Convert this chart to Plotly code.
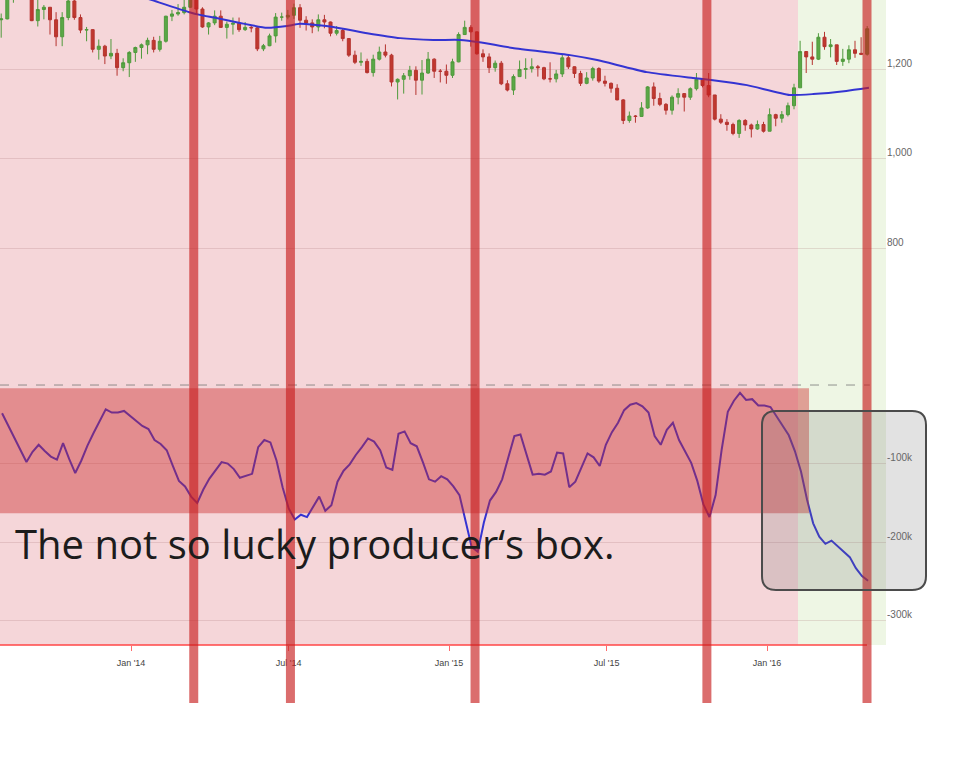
import plotly.graph_objects as go
import pandas as pd

# ---------------- data ----------------
candle_start = "2013-07-29"   # weekly candles (week start)
opens = [1323,1310,1312,1371,1395,1396,1387,1308,1333,1338,1310,1272,1315,1352,1315,1287,1288,1244,1251,1229,
         1235,1203,1214,1237,1248,1254,1264,1244,1262,1318,1323,1326,1338,1379,1334,1294,1303,1318,1293,1300,
         1302,1288,1293,1292,1245,1252,1274,1316,1316,1320,1337,1309,1303,1294,1310,1305,1280,1286,1268,1231,
         1215,1217,1192,1222,1238,1231,1171,1177,1185,1197,1175,1191,1222,1195,1195,1186,1216,1277,1293,1283,
         1234,1227,1203,1213,1167,1153,1183,1199,1201,1205,1203,1178,1178,1189,1225,1205,1190,1168,1180,1201,
         1173,1168,1157,1131,1085,1095,1094,1113,1160,1134,1121,1108,1137,1145,1137,1156,1177,1163,1142,1088,
         1081,1076,1056,1085,1075,1066,1076,1061,1098,1090,1098,1118,1158,1239,1227,1222,1271,1250,1254,1217,
         1222,1243,1235,1233]
highs = [1329,1324,1378,1401,1434,1419,1388,1372,1343,1338,1327,1327,1361,1362,1322,1294,1289,1266,1254,1267,
         1245,1224,1240,1250,1257,1270,1272,1274,1319,1332,1345,1355,1382,1392,1338,1305,1331,1331,1306,1315,
         1315,1305,1296,1294,1256,1279,1325,1326,1332,1346,1345,1318,1311,1322,1321,1306,1296,1290,1269,1241,
         1237,1223,1232,1250,1255,1234,1179,1191,1207,1206,1220,1238,1224,1200,1210,1223,1282,1308,1298,1284,
         1244,1235,1219,1218,1175,1188,1219,1224,1224,1209,1205,1215,1198,1232,1232,1206,1196,1193,1205,1204,
         1185,1170,1166,1133,1105,1097,1126,1162,1170,1147,1124,1141,1157,1146,1159,1191,1178,1191,1142,1099,
         1088,1080,1088,1088,1078,1085,1082,1112,1100,1106,1125,1167,1263,1240,1261,1280,1283,1267,1254,1245,
         1253,1263,1271,1296]
lows = [1271,1270,1311,1348,1380,1365,1307,1295,1311,1277,1251,1251,1309,1310,1280,1262,1237,1221,1211,1222,
        1185,1195,1182,1216,1223,1233,1237,1239,1259,1307,1319,1322,1337,1321,1292,1277,1298,1292,1268,1277,
        1283,1285,1282,1240,1240,1251,1259,1308,1311,1312,1292,1286,1280,1284,1291,1273,1275,1262,1227,1211,
        1207,1190,1183,1219,1226,1161,1132,1145,1176,1142,1143,1189,1180,1170,1167,1180,1215,1276,1250,1232,
        1216,1191,1194,1164,1150,1142,1183,1178,1192,1183,1175,1170,1170,1182,1200,1180,1162,1166,1174,1169,
        1161,1147,1130,1077,1080,1080,1094,1111,1118,1117,1098,1098,1121,1105,1131,1152,1159,1137,1085,1077,
        1062,1052,1046,1062,1047,1064,1058,1061,1072,1080,1094,1110,1158,1191,1209,1220,1243,1226,1209,1207,
        1213,1225,1231,1230]
closes = [1310,1312,1371,1395,1396,1387,1308,1333,1338,1310,1272,1315,1352,1315,1287,1288,1244,1251,1229,1235,
          1203,1214,1237,1248,1254,1264,1244,1262,1318,1323,1326,1338,1379,1334,1294,1303,1318,1293,1300,1302,
          1288,1293,1292,1245,1252,1274,1316,1316,1320,1337,1309,1303,1294,1310,1305,1280,1286,1268,1231,1215,
          1217,1192,1222,1238,1231,1171,1177,1185,1197,1175,1191,1222,1195,1195,1186,1216,1277,1293,1283,1234,
          1227,1203,1213,1167,1153,1183,1199,1201,1205,1203,1178,1178,1189,1225,1205,1190,1168,1180,1201,1173,
          1168,1157,1131,1085,1095,1094,1113,1160,1134,1121,1108,1137,1145,1137,1156,1177,1163,1142,1088,1081,
          1076,1056,1085,1075,1066,1076,1061,1098,1090,1098,1118,1158,1239,1227,1222,1271,1250,1254,1217,1222,
          1243,1235,1233,1290]

ma_dates = ["2013-11-26","2014-01-25","2014-03-09","2014-03-21","2014-04-09","2014-05-06","2014-06-06",
            "2014-06-29","2014-07-14","2014-08-21","2014-09-29","2014-11-06","2014-12-14","2015-01-14",
            "2015-02-05","2015-03-15","2015-05-20","2015-06-20","2015-08-16","2015-10-08","2015-10-31",
            "2015-12-09","2016-01-27","2016-02-23","2016-04-01","2016-04-27"]
ma_values = [1392,1354,1327,1321,1314,1303,1292,1296,1301,1294,1280,1269,1265,1265,1260,1247,1231,1220,
             1193,1180,1175,1164,1142,1144,1151,1158]

cot_start = "2013-08-06"      # weekly COT reports
cot_net_k = [-36,-51,-67,-82,-98,-85,-76,-84,-91,-95,-74,-94,-112,-96,-77,-61,-45,-31,-35,-35,
             -33,-39,-45,-52,-56,-70,-75,-83,-103,-122,-129,-142,-150,-133,-119,-108,-98,-100,-107,-118,
             -115,-113,-79,-70,-73,-96,-130,-157,-171,-165,-168,-155,-142,-160,-153,-123,-109,-101,-89,-79,
             -68,-72,-83,-105,-108,-62,-59,-74,-78,-98,-120,-123,-116,-120,-129,-140,-172,-206,-212,-175,
             -147,-136,-120,-92,-65,-63,-90,-114,-113,-114,-110,-86,-87,-130,-123,-105,-87,-92,-103,-76,
             -60,-48,-32,-25,-23,-27,-35,-65,-76,-57,-48,-70,-84,-99,-122,-152,-168,-140,-82,-34,
             -20,-10,-19,-18,-26,-26,-28,-40,-52,-64,-84,-110,-146,-176,-193,-202,-198,-205,-212,-219,
             -233,-243,-249]

signal_dates = ["2014-03-14", "2014-07-03", "2015-01-30 21:00", "2015-10-24", "2016-04-24 19:00"]
tick_dates = ["2014-01-01", "2014-07-01", "2015-01-01", "2015-07-01", "2016-01-01"]
tick_text = ["Jan '14", "Jul '14", "Jan '15", "Jul '15", "Jan '16"]
price_ticks = [800, 1000, 1200]
cot_ticks = [-100, -200, -300]
cot_tick_text = ["-100k", "-200k", "-300k"]
x_view = ["2013-08-03 15:00", "2016-05-16 14:00"]
bull_start = "2016-02-05 14:00"
box_band_end = "2016-02-18 05:00"
band_range_k = [-4, -163]
line_end = "2016-04-28"
note_text = "The not so lucky producer‘s box."

# ---------------- layout geometry ----------------
W, H = 958, 770
ML, MR, MT, MB = 0, 72, 0, 125
PW, PH = W - ML - MR, H - MT - MB


def px(x):
    return (x - ML) / PW


def py(y):
    return (PH + MT - y) / PH


candle_dates = pd.date_range(candle_start, periods=len(closes), freq="7D")
cot_dates = pd.date_range(cot_start, periods=len(cot_net_k), freq="7D")

BLUE = "#3434d2"

fig = go.Figure()
fig.add_trace(go.Candlestick(
    x=candle_dates, open=opens, high=highs, low=lows, close=closes,
    increasing=dict(line=dict(color="#4f9a3c", width=1), fillcolor="#5ba847"),
    decreasing=dict(line=dict(color="#b5332f", width=1), fillcolor="#c0392f"),
    whiskerwidth=0, xaxis="x", yaxis="y", showlegend=False, hoverinfo="skip"))
fig.add_trace(go.Scatter(
    x=ma_dates, y=ma_values, mode="lines", xaxis="x", yaxis="y",
    line=dict(color=BLUE, width=2, shape="spline", smoothing=0.5), showlegend=False, hoverinfo="skip"))
fig.add_trace(go.Scatter(
    x=cot_dates, y=cot_net_k, mode="lines", xaxis="x", yaxis="y2",
    line=dict(color=BLUE, width=2), showlegend=False, hoverinfo="skip"))

shapes = []
# background zones
shapes.append(dict(type="rect", xref="x", yref="paper", x0=x_view[0], x1=bull_start, y0=0, y1=1,
                   fillcolor="rgb(245,214,217)", line=dict(width=0), layer="below"))
shapes.append(dict(type="rect", xref="x", yref="paper", x0=bull_start, x1=x_view[1], y0=0, y1=1,
                   fillcolor="rgb(238,246,228)", line=dict(width=0), layer="below"))
# dark band in the lower panel
shapes.append(dict(type="rect", xref="x", yref="y2", x0=x_view[0], x1=box_band_end,
                   y0=band_range_k[0], y1=band_range_k[1],
                   fillcolor="rgba(202,40,40,0.42)", line=dict(width=0), layer="above"))
# zero line (dashed)
shapes.append(dict(type="line", xref="x", yref="y2", x0=x_view[0], x1=line_end, y0=0, y1=0,
                   line=dict(color="rgba(120,120,120,0.8)", width=1, dash="dash"), layer="above"))
# bottom axis line
shapes.append(dict(type="line", xref="paper", yref="paper", x0=0, x1=px(867), y0=0, y1=0,
                   line=dict(color="rgba(255,70,70,0.75)", width=2), layer="above"))
# vertical signal lines
for d in signal_dates:
    shapes.append(dict(type="line", xref="x", yref="paper", x0=d, x1=d, y0=py(703), y1=1,
                       line=dict(color="rgba(200,30,30,0.65)", width=9), layer="above"))
# rounded box
bx0, bx1, by0, by1, r = 762, 926, 411, 590, 14
pts = [
    ("M", (bx0 + r, by0)), ("L", (bx1 - r, by0)), ("Q", (bx1, by0), (bx1, by0 + r)),
    ("L", (bx1, by1 - r)), ("Q", (bx1, by1), (bx1 - r, by1)), ("L", (bx0 + r, by1)),
    ("Q", (bx0, by1), (bx0, by1 - r)), ("L", (bx0, by0 + r)), ("Q", (bx0, by0), (bx0 + r, by0)),
]
path = ""
for seg in pts:
    cmd = seg[0]
    coords = " ".join(f"{px(p[0]):.5f},{py(p[1]):.5f}" for p in seg[1:])
    path += f"{cmd} {coords} "
path += "Z"
shapes.append(dict(type="path", xref="paper", yref="paper", path=path,
                   fillcolor="rgba(110,110,110,0.2)", line=dict(color="rgb(75,75,75)", width=2),
                   layer="above"))

axis_font = dict(family="Liberation Sans, Arial, sans-serif", size=10, color="#666666")

fig.update_layout(
    width=W, height=H,
    margin=dict(l=ML, r=MR, t=MT, b=MB, pad=0),
    paper_bgcolor="white", plot_bgcolor="rgba(0,0,0,0)",
    showlegend=False,
    shapes=shapes,
    xaxis=dict(type="date", range=x_view, anchor="y2", rangeslider=dict(visible=False),
               tickvals=tick_dates, ticktext=tick_text, ticks="outside", ticklen=5, tickwidth=1,
               tickcolor="rgba(255,70,70,0.8)", showgrid=False, showline=False, zeroline=False,
               tickfont=dict(family="Liberation Sans Narrow, Liberation Sans, sans-serif", size=9,
                             color="#444444"),
               ticklabelstandoff=4, fixedrange=True),
    yaxis=dict(domain=[py(330), 1], range=[616.8, 1354.2], side="right", anchor="x",
               tickvals=price_ticks, tickformat=",", showgrid=True,
               gridcolor="rgba(150,90,90,0.18)", gridwidth=1, zeroline=False, ticks="",
               tickfont=axis_font, ticklabelshift=-6, fixedrange=True),
    yaxis2=dict(domain=[0, py(380)], range=[-330.8, 6.4], side="right", anchor="x",
                tickvals=cot_ticks, ticktext=cot_tick_text, showgrid=True,
                gridcolor="rgba(150,90,90,0.18)", gridwidth=1, zeroline=False, ticks="",
                tickfont=axis_font, ticklabelshift=-6, fixedrange=True),
    annotations=[dict(text=note_text, xref="paper", yref="paper", x=px(13), y=py(543),
                      xanchor="left", yanchor="middle", showarrow=False,
                      font=dict(family="Open Sans, Noto Sans, sans-serif", size=40, color="#1c1c1c"))],
)

fig.write_html("out.html", config={"displayModeBar": False},
               post_script="document.body.style.margin='0';")
